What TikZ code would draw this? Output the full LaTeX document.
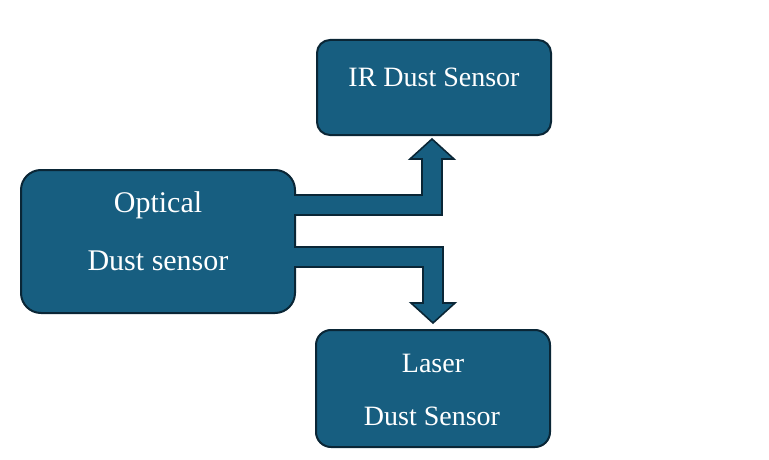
\documentclass[tikz,border=0pt]{standalone}
\usepackage{fontspec}
\setmainfont{Liberation Serif}
\newfontfamily\tnrfont{Liberation Serif}
\definecolor{boxfill}{RGB}{23,94,128}
\definecolor{boxline}{RGB}{10,38,54}
\begin{document}
\begin{tikzpicture}[x=1pt,y=-1pt,
  sbox/.style={draw=boxline,fill=boxfill,line width=2pt},
  lbl/.style={text=white,inner sep=0pt,anchor=center},
  bigtxt/.style={font=\tnrfont\fontsize{30}{36}\selectfont},
  midtxt/.style={font=\tnrfont\fontsize{28}{34}\selectfont},
  fatarrow/.style={draw=boxline,fill=boxfill,line width=1.6pt,line join=miter}]
\useasboundingbox (0,0) rectangle (769,460);
% boxes
\draw[sbox,rounded corners=20pt] (21,170) rectangle (295,313);
\draw[sbox,rounded corners=13pt] (317,40) rectangle (551,135);
\draw[sbox,rounded corners=15pt] (316,330) rectangle (550,447);
% labels
\node[lbl,bigtxt] (optA) at (158,205) {Optical};
\node[lbl,bigtxt] (optB) at (158,261) {Dust sensor};
\node[lbl,midtxt] (ir) at (434,77) {IR Dust Sensor};
\node[lbl,midtxt] (lasA) at (433,363) {Laser};
\node[lbl,midtxt] (lasB) at (432,416) {Dust Sensor};
% arrows
\draw[fatarrow] (294,195) -- (422,195) -- (422,159) -- (410,159) -- (432,139)
  -- (454,159) -- (442,159) -- (442,215) -- (294,215);
\draw[fatarrow] (294,247) -- (443,247) -- (443,303) -- (455,303) -- (433,323)
  -- (411,303) -- (423,303) -- (423,267) -- (294,267);
\end{tikzpicture}
\end{document}
